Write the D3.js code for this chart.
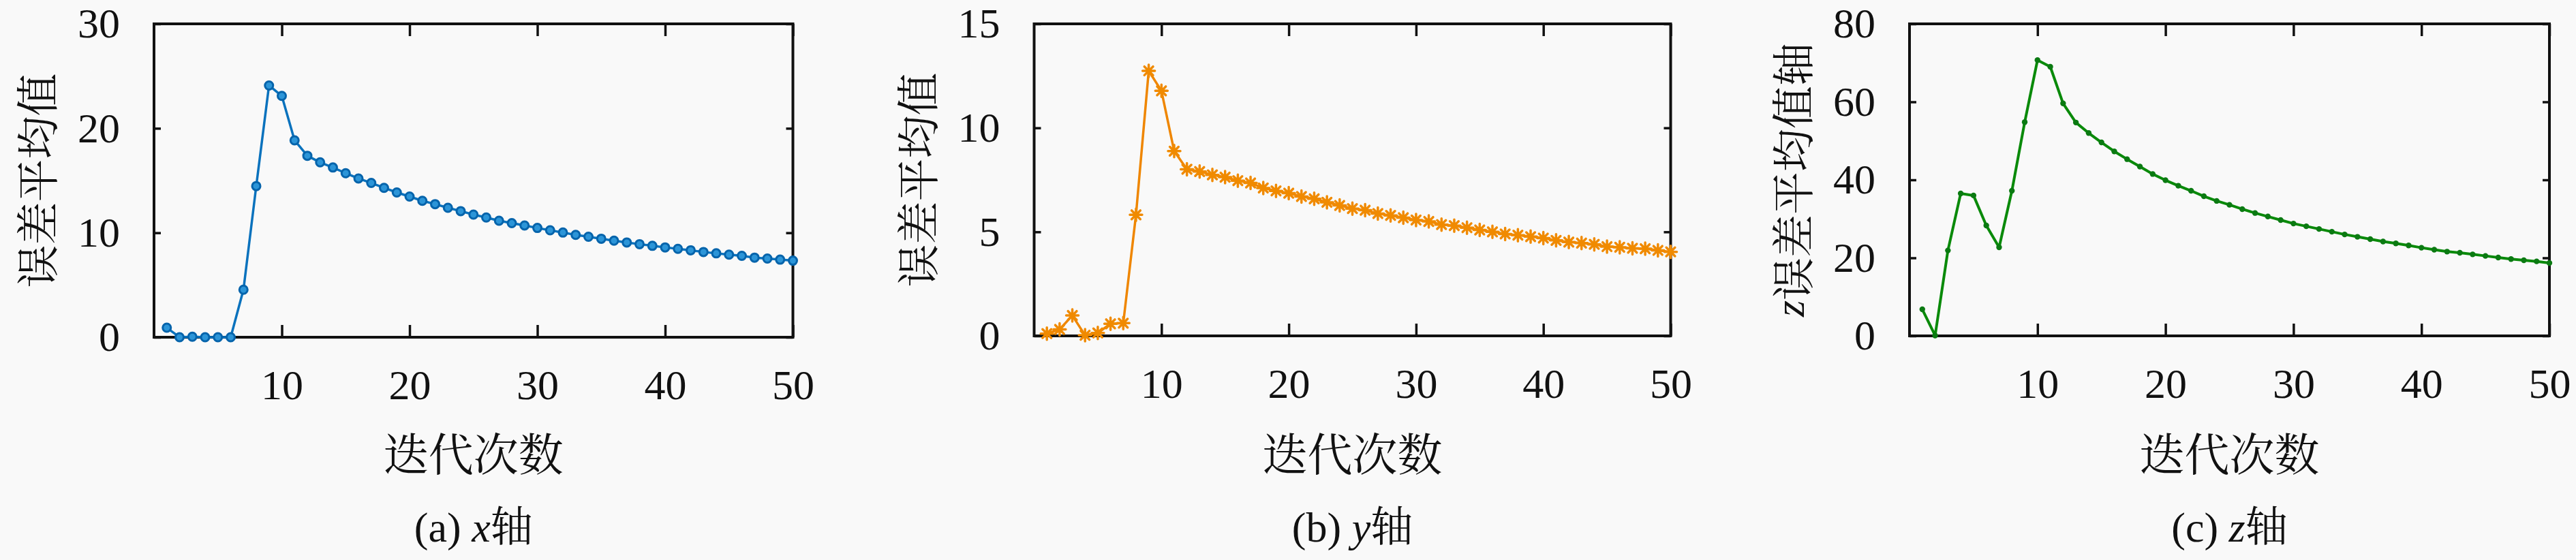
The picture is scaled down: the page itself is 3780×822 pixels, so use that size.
<!DOCTYPE html>
<html>
<head>
<meta charset="utf-8">
<script src="https://d3js.org/d3.v7.min.js"></script>
<style>
  body { margin: 0; background: #f9f9f9; }
  svg { display: block; }
  .tick text { font-family: 'Liberation Serif', serif; font-size: 62px; fill: #111; }
  .cjk { font-family: 'Noto Serif CJK SC', 'Noto Sans CJK SC', sans-serif; }
  .latin { font-family: 'Liberation Serif', serif; }
</style>
</head>
<body>
<svg id="chart" width="3780" height="822"></svg>
<script>
// iteration number (x) for all three panels
const iterations = [1, 2, 3, 4, 5, 6, 7, 8, 9, 10, 11, 12, 13, 14, 15, 16, 17, 18, 19, 20,
  21, 22, 23, 24, 25, 26, 27, 28, 29, 30, 31, 32, 33, 34, 35, 36, 37, 38, 39, 40,
  41, 42, 43, 44, 45, 46, 47, 48, 49, 50];

// mean error per axis
const xAxisErr = [0.91, 0, 0.05, 0, 0, 0, 4.55, 14.47, 24.1, 23.1,
  18.85, 17.37, 16.74, 16.25, 15.7, 15.2, 14.77, 14.3, 13.86, 13.47,
  13.06, 12.74, 12.39, 12.07, 11.74, 11.46, 11.15, 10.92, 10.7, 10.46,
  10.24, 10.02, 9.8, 9.62, 9.43, 9.24, 9.07, 8.91, 8.75, 8.6,
  8.46, 8.32, 8.16, 8.03, 7.91, 7.79, 7.62, 7.53, 7.43, 7.33];

const yAxisErr = [0.11, 0.31, 0.98, 0.03, 0.14, 0.58, 0.61, 5.82, 12.74, 11.78,
  8.88, 8.01, 7.9, 7.74, 7.63, 7.46, 7.35, 7.11, 6.97, 6.86,
  6.7, 6.59, 6.42, 6.27, 6.12, 6.04, 5.88, 5.79, 5.68, 5.57,
  5.5, 5.35, 5.3, 5.2, 5.09, 5.0, 4.9, 4.84, 4.77, 4.7,
  4.59, 4.51, 4.46, 4.4, 4.29, 4.26, 4.21, 4.19, 4.11, 4.04];

const zAxisErr = [6.8, 0.1, 21.9, 36.5, 36.0, 28.3, 22.7, 37.2, 54.8, 70.7,
  69.0, 59.6, 54.7, 52.0, 49.6, 47.3, 45.3, 43.4, 41.5, 39.9,
  38.5, 37.2, 35.8, 34.6, 33.6, 32.5, 31.5, 30.6, 29.7, 28.8,
  28.1, 27.4, 26.7, 26.0, 25.4, 24.8, 24.2, 23.7, 23.2, 22.6,
  22.1, 21.6, 21.3, 20.9, 20.5, 20.1, 19.7, 19.4, 19.1, 18.7];

const xTicks = [10, 20, 30, 40, 50];
const yTicksA = [0, 10, 20, 30];
const yTicksB = [0, 5, 10, 15];
const yTicksC = [0, 20, 40, 60, 80];

const xLabel = '迭代次数';
const yLabel = '误差平均值';

const panels = [
  { values: xAxisErr, yMax: 30, yTicks: yTicksA, left: 226, right: 1163.5, top: 35, bottom: 495,
    color: '#0a72bd', marker: 'circle', tag: '(a) ', axisVar: 'x', yPre: '', yPost: '' },
  { values: yAxisErr, yMax: 15, yTicks: yTicksB, left: 1517.5, right: 2451.5, top: 35, bottom: 493,
    color: '#ef8600', marker: 'star', tag: '(b) ', axisVar: 'y', yPre: '', yPost: '' },
  { values: zAxisErr, yMax: 80, yTicks: yTicksC, left: 2802, right: 3741, top: 35, bottom: 493,
    color: '#0a8a0a', marker: 'dot', tag: '(c) ', axisVar: 'z', yPre: 'z', yPost: '轴' }
];

const svg = d3.select('#chart');

// 8-arm asterisk marker
function starPath(r) {
  const d = r * Math.SQRT1_2;
  return `M${-r},0L${r},0M0,${-r}L0,${r}M${-d},${-d}L${d},${d}M${-d},${d}L${d},${-d}`;
}

panels.forEach(p => {
  const g = svg.append('g');
  const x = d3.scaleLinear().domain([0, 50]).range([p.left, p.right]);
  const y = d3.scaleLinear().domain([0, p.yMax]).range([p.bottom, p.top]);
  const pts = iterations.map((it, i) => [it, p.values[i]]);

  // axes with inward ticks
  const bottomAx = g.append('g').attr('transform', `translate(0,${p.bottom})`)
    .call(d3.axisBottom(x).tickValues(xTicks).tickSizeInner(-18).tickSizeOuter(0).tickPadding(0));
  bottomAx.selectAll('text').attr('y', 91).attr('dy', 0);

  g.append('g').attr('transform', `translate(0,${p.top})`)
    .call(d3.axisTop(x).tickValues(xTicks).tickSizeInner(-18).tickSizeOuter(0).tickFormat(''));

  g.append('g').attr('transform', `translate(${p.left},0)`)
    .call(d3.axisLeft(y).tickValues(p.yTicks).tickSizeInner(-10).tickSizeOuter(0).tickPadding(50));

  g.append('g').attr('transform', `translate(${p.right},0)`)
    .call(d3.axisRight(y).tickValues(p.yTicks).tickSizeInner(-10).tickSizeOuter(0).tickFormat(''));

  g.selectAll('.domain').remove();
  g.selectAll('.tick line').attr('stroke', '#111').attr('stroke-width', 3.5);

  g.append('rect')
    .attr('x', p.left).attr('y', p.top)
    .attr('width', p.right - p.left).attr('height', p.bottom - p.top)
    .attr('fill', 'none').attr('stroke', '#111').attr('stroke-width', 4);

  // series line
  g.append('path')
    .datum(pts)
    .attr('fill', 'none')
    .attr('stroke', p.color)
    .attr('stroke-width', p.marker === 'dot' ? 4 : 3.5)
    .attr('stroke-linejoin', 'round')
    .attr('d', d3.line().x(d => x(d[0])).y(d => y(d[1])));

  // markers
  const mk = g.append('g');
  if (p.marker === 'circle') {
    mk.selectAll('circle').data(pts).enter().append('circle')
      .attr('cx', d => x(d[0])).attr('cy', d => y(d[1]))
      .attr('r', 6)
      .attr('fill', '#2c95d8').attr('stroke', '#0664ab').attr('stroke-width', 3);
  } else if (p.marker === 'star') {
    mk.selectAll('path').data(pts).enter().append('path')
      .attr('transform', d => `translate(${x(d[0])},${y(d[1])})`)
      .attr('d', starPath(9))
      .attr('fill', 'none').attr('stroke', '#f08a00').attr('stroke-width', 3.5)
      .attr('stroke-linecap', 'round');
  } else {
    mk.selectAll('circle').data(pts).enter().append('circle')
      .attr('cx', d => x(d[0])).attr('cy', d => y(d[1]))
      .attr('r', 4.2)
      .attr('fill', '#0b7a12');
  }

  const cx = (p.left + p.right) / 2;
  const cy = (p.top + p.bottom) / 2;

  // x axis title
  g.append('text').attr('class', 'cjk')
    .attr('x', cx).attr('y', 662)
    .attr('text-anchor', 'middle').attr('dominant-baseline', 'central')
    .attr('font-size', 66).attr('fill', '#111')
    .text(xLabel);

  // y axis title
  const yt = g.append('text').attr('class', 'cjk')
    .attr('transform', `translate(${p.left - 176},${cy}) rotate(-90)`)
    .attr('text-anchor', 'middle').attr('dominant-baseline', 'central')
    .attr('font-size', 63).attr('fill', '#111');
  if (p.yPre) {
    yt.append('tspan').attr('class', 'latin').attr('font-style', 'italic')
      .attr('font-size', 62).text(p.yPre);
  }
  yt.append('tspan').text(yLabel + p.yPost);

  // sub caption
  const cap = g.append('text')
    .attr('x', cx).attr('y', 795)
    .attr('text-anchor', 'middle')
    .attr('fill', '#111');
  cap.append('tspan').attr('class', 'latin').attr('font-size', 62).text(p.tag);
  cap.append('tspan').attr('class', 'latin').attr('font-style', 'italic').attr('font-size', 62).text(p.axisVar);
  cap.append('tspan').attr('class', 'cjk').attr('font-size', 62).text('轴');
});
</script>
</body>
</html>
